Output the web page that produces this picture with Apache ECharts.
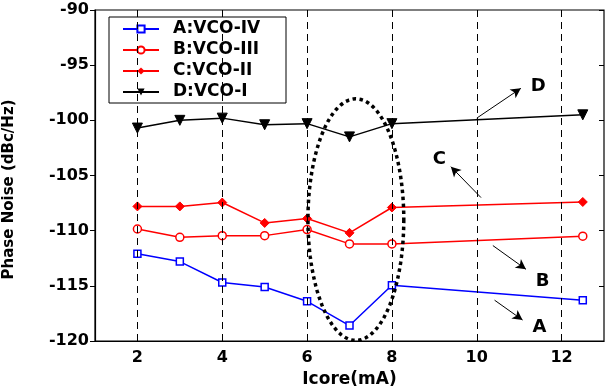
<!DOCTYPE html>
<html>
<head>
<meta charset="utf-8">
<script src="https://cdn.jsdelivr.net/npm/echarts@6/dist/echarts.min.js"></script>
<style>
  html, body { margin: 0; padding: 0; background: #fff; }
  #chart { width: 610px; height: 392px; }
</style>
</head>
<body>
<div id="chart"></div>
<script>
// Icore (mA)
const xValues = [2, 3, 4, 5, 6, 7, 8, 12.5];
// phase noise (dBc/Hz)
const vcoIV = [-112.1, -112.8, -114.7, -115.1, -116.4, -118.6, -114.95, -116.3];
const vcoIII = [-109.85, -110.6, -110.45, -110.45, -109.9, -111.2, -111.2, -110.5];
const vcoII = [-107.8, -107.8, -107.45, -109.3, -108.9, -110.2, -107.9, -107.4];
const vcoI = [-100.7, -100.0, -99.8, -100.4, -100.3, -101.5, -100.3, -99.5];

const xTicks = [2, 4, 6, 8, 10, 12];
const seriesNames = ['A:VCO-IV', 'B:VCO-III', 'C:VCO-II', 'D:VCO-I'];

// annotations (data space)
const ellipse = { cx: 7.15, cy: -109, rx: 1.13, ry: 10.95 };
const arrowFrom = [[10, -99.8], [10.1, -107.0], [10.38, -111.35], [10.42, -116.3]];
const arrowTo = [[11.04, -97.1], [9.39, -104.2], [11.16, -113.5], [11.08, -118.1]];
const letterPos = [[11.45, -96.9], [9.12, -103.5], [11.55, -114.6], [11.48, -118.8]];
const letters = ['D', 'C', 'B', 'A'];

const font = 'DejaVu Sans';

function pairs(ys) {
  return xValues.map((x, i) => [x, ys[i]]);
}

const chart = echarts.init(document.getElementById('chart'));

const option = {
  animation: false,
  backgroundColor: '#fff',
  grid: {
    left: 95, right: 6, top: 10, bottom: 51,
    outerBoundsMode: 'none',
    show: true, borderColor: '#000', borderWidth: 1.2, backgroundColor: 'transparent'
  },
  legend: {
    data: seriesNames,
    orient: 'vertical',
    left: 109, top: 17,
    padding: [2, 13, 1, 13],
    itemGap: 1,
    itemWidth: 36,
    itemHeight: 9,
    backgroundColor: '#fff',
    borderColor: '#000',
    borderWidth: 1,
    textStyle: {
      fontFamily: font, fontWeight: 'bold', fontSize: 17, color: '#000',
      lineHeight: 20, width: 100, padding: [0, 0, 0, 9]
    }
  },
  xAxis: {
    type: 'value',
    min: 1, max: 13,
    name: 'Icore(mA)',
    nameLocation: 'middle',
    nameGap: 26,
    nameTextStyle: { fontFamily: font, fontWeight: 'bold', fontSize: 17, color: '#000' },
    axisLine: { lineStyle: { color: '#000', width: 1.2 } },
    axisTick: { inside: true, length: 5, customValues: xTicks, lineStyle: { color: '#000' } },
    axisLabel: { customValues: xTicks, margin: 9, fontFamily: font, fontWeight: 'bold', fontSize: 16, color: '#000' },
    splitLine: { show: false }
  },
  yAxis: [{
    type: 'value',
    min: -120, max: -90, interval: 5,
    name: 'Phase Noise (dBc/Hz)',
    nameLocation: 'middle',
    nameRotate: 90,
    nameGap: 78,
    nameTextStyle: { fontFamily: font, fontWeight: 'bold', fontSize: 15, color: '#000', padding: [0, 28, 0, 0] },
    axisLine: { lineStyle: { color: '#000', width: 1.2 } },
    axisTick: { length: 5, lineStyle: { color: '#000' } },
    axisLabel: { margin: 6, fontFamily: font, fontWeight: 'bold', fontSize: 16, color: '#000' },
    splitLine: { show: false }
  }, {
    type: 'value',
    position: 'right',
    min: -120, max: -90, interval: 5,
    axisLine: { show: false },
    axisTick: { inside: true, length: 5, lineStyle: { color: '#000' } },
    axisLabel: { show: false },
    splitLine: { show: false }
  }],
  series: [
    {
      name: 'guides',
      type: 'line',
      data: [],
      silent: true,
      markLine: {
        silent: true,
        animation: false,
        symbol: 'none',
        label: { show: false },
        lineStyle: { color: '#000', width: 1, type: [7, 5] },
        data: xTicks.map(v => ({ xAxis: v }))
      }
    },
    {
      name: 'arrows',
      type: 'line',
      data: [],
      silent: true,
      markLine: {
        silent: true,
        animation: false,
        symbol: ['none', 'arrow'],
        symbolSize: [8, 10],
        label: { show: false },
        lineStyle: { color: '#000', width: 1, type: 'solid' },
        data: arrowFrom.map((p, i) => [{ coord: p }, { coord: arrowTo[i] }])
      }
    },
    {
      name: seriesNames[0],
      type: 'line',
      data: pairs(vcoIV),
      symbol: 'rect',
      symbolSize: 7,
      lineStyle: { color: '#0000ff', width: 1.5 },
      itemStyle: { color: '#fff', borderColor: '#0000ff', borderWidth: 1.5 },
      z: 4
    },
    {
      name: seriesNames[1],
      type: 'line',
      data: pairs(vcoIII),
      symbol: 'circle',
      symbolSize: 8,
      lineStyle: { color: '#ff0000', width: 1.5 },
      itemStyle: { color: '#fff', borderColor: '#ff0000', borderWidth: 1.5 },
      z: 4
    },
    {
      name: seriesNames[2],
      type: 'line',
      data: pairs(vcoII),
      symbol: 'diamond',
      symbolSize: 9,
      lineStyle: { color: '#ff0000', width: 1.5 },
      itemStyle: { color: '#ff0000', borderColor: '#ff0000' },
      z: 4
    },
    {
      name: seriesNames[3],
      type: 'line',
      data: pairs(vcoI),
      symbol: 'triangle',
      symbolRotate: 180,
      symbolSize: 10,
      lineStyle: { color: '#000', width: 1.5 },
      itemStyle: { color: '#000', borderColor: '#000' },
      z: 4
    },
    {
      name: 'ellipse',
      type: 'custom',
      silent: true,
      data: [[ellipse.cx, ellipse.cy]],
      z: 6,
      renderItem: function (params, api) {
        const c = api.coord([api.value(0), api.value(1)]);
        const rx = api.size([ellipse.rx, 0])[0];
        const ry = api.size([0, ellipse.ry])[1];
        const pts = [];
        for (let k = 0; k < 120; k++) {
          const t = k / 120 * Math.PI * 2;
          pts.push([c[0] + rx * Math.cos(t), c[1] + ry * Math.sin(t)]);
        }
        return {
          type: 'polygon',
          shape: { points: pts },
          style: { fill: null, stroke: '#000', lineWidth: 3.5, lineDash: [3.5, 3.5] }
        };
      }
    },
    {
      name: 'letters',
      type: 'custom',
      silent: true,
      data: letterPos.map((p, i) => [p[0], p[1], i]),
      z: 6,
      renderItem: function (params, api) {
        const c = api.coord([api.value(0), api.value(1)]);
        return {
          type: 'text',
          x: c[0], y: c[1],
          style: {
            text: letters[api.value(2)],
            fontFamily: font, fontWeight: 'bold', fontSize: 18, fill: '#000',
            align: 'center', verticalAlign: 'middle'
          }
        };
      }
    }
  ]
};

chart.setOption(option);
</script>
</body>
</html>
